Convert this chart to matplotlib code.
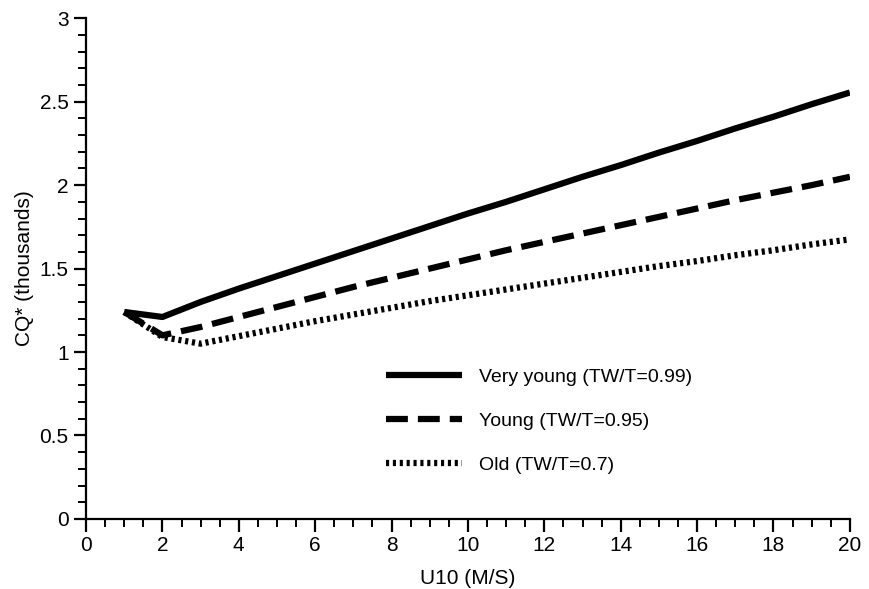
import numpy as np
import matplotlib.pyplot as plt
from matplotlib.ticker import MultipleLocator, FormatStrFormatter

plt.rcParams['font.family'] = ['Liberation Sans', 'DejaVu Sans']

# wind speed U10 (m/s)
u10 = [1, 2, 3, 4, 5, 6, 7, 8, 9, 10, 11, 12, 13, 14, 15, 16, 17, 18, 19, 20]

# CQ* in thousands
very_young = [1.24, 1.21, 1.30, 1.38, 1.455, 1.53, 1.605, 1.68, 1.755, 1.83,
              1.90, 1.975, 2.05, 2.12, 2.195, 2.265, 2.34, 2.41, 2.485, 2.555]
young = [1.24, 1.10, 1.15, 1.21, 1.27, 1.33, 1.39, 1.445, 1.50, 1.555,
         1.61, 1.66, 1.71, 1.76, 1.81, 1.86, 1.91, 1.955, 2.00, 2.05]
old = [1.24, 1.09, 1.05, 1.095, 1.14, 1.185, 1.225, 1.265, 1.305, 1.34,
       1.375, 1.41, 1.445, 1.48, 1.515, 1.545, 1.58, 1.61, 1.645, 1.675]

labels = ['Very young (TW/T=0.99)', 'Young (TW/T=0.95)', 'Old (TW/T=0.7)']

fig = plt.figure(figsize=(8.69, 5.89), dpi=100)
ax = fig.add_axes([0.099, 0.119, 0.879, 0.85])

ax.plot(u10, very_young, color='black', lw=4.5, solid_capstyle='butt', label=labels[0])
ax.plot(u10, young, color='black', lw=4.5, dashes=(3.5, 1.6), dash_capstyle='butt', label=labels[1])
ax.plot(u10, old, color='black', lw=4.5, dashes=(0.5, 0.6), dash_capstyle='butt', label=labels[2])

ax.set_xlim(0, 20)
ax.set_ylim(0, 3)
ax.xaxis.set_major_locator(MultipleLocator(2))
ax.xaxis.set_minor_locator(MultipleLocator(0.5))
ax.yaxis.set_major_locator(MultipleLocator(0.5))
ax.yaxis.set_minor_locator(MultipleLocator(0.1))
ax.yaxis.set_major_formatter(FormatStrFormatter('%g'))

for s in ['top', 'right']:
    ax.spines[s].set_visible(False)
for s in ['left', 'bottom']:
    ax.spines[s].set_linewidth(1.6)

ax.tick_params(which='major', direction='out', length=9, width=1.6, labelsize=15)
ax.tick_params(which='minor', direction='out', length=5.5, width=1.4)

ax.set_xlabel('U10 (M/S)', fontsize=15, labelpad=10)
ax.set_ylabel('CQ* (thousands)', fontsize=15, labelpad=4)

ax.legend(frameon=False, fontsize=14, handlelength=3.9, handletextpad=0.9,
          labelspacing=1.35, loc='upper left', bbox_to_anchor=(0.37, 0.335))

fig.savefig('out.png', dpi=100)
